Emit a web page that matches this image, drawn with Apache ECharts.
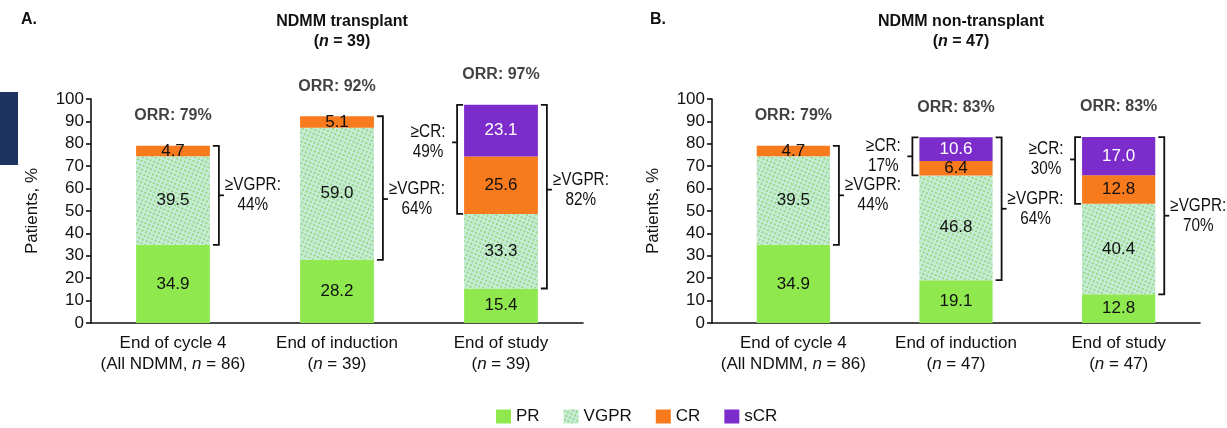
<!DOCTYPE html>
<html>
<head>
<meta charset="utf-8">
<style>
  html, body { margin: 0; padding: 0; background: #fff; }
  #main { width: 1227px; height: 428px; }
</style>
<script src="https://cdn.jsdelivr.net/npm/echarts@6/dist/echarts.min.js"></script>
</head>
<body>
<div id="main"></div>
<script>
// panel A - NDMM transplant
var catsA = ['End of cycle 4\n(All NDMM, {i|n} = 86)', 'End of induction\n({i|n} = 39)', 'End of study\n({i|n} = 39)'];
var prA = [34.9, 28.2, 15.4];
var vgprA = [39.5, 59.0, 33.3];
var crA = [4.7, 5.1, 25.6];
var scrA = [0, 0, 23.1];
var orrA = [79, 92, 97];
// [category, group, percent]
var bracketsA = [[0, 'vgpr', 44], [1, 'vgpr', 64], [2, 'cr', 49], [2, 'vgpr', 82]];

// panel B - NDMM non-transplant
var catsB = ['End of cycle 4\n(All NDMM, {i|n} = 86)', 'End of induction\n({i|n} = 47)', 'End of study\n({i|n} = 47)'];
var prB = [34.9, 19.1, 12.8];
var vgprB = [39.5, 46.8, 40.4];
var crB = [4.7, 6.4, 12.8];
var scrB = [0, 10.6, 17.0];
var orrB = [79, 83, 83];
var bracketsB = [[0, 'vgpr', 44], [1, 'cr', 17], [1, 'vgpr', 64], [2, 'cr', 30], [2, 'vgpr', 70]];

var yTicks = { min: 0, max: 100, interval: 10 };

var FONT = '"Liberation Sans", Arial, sans-serif';
var INK = '#111';
var colPR = '#8fe94e', colVGPR = '#c4ecd6', colCR = '#f77a1c', colSCR = '#7b2ccb';

// small vertical nudges of the bracket ticks (px), like the original layout
var shiftA = [0, 11, -17, -7];
var shiftB = [0, 0, 0, -11, 0];

function valLabel(white) {
  return {
    show: true, position: 'inside', fontSize: 17, fontFamily: FONT,
    color: white ? '#fff' : INK,
    formatter: function (p) { return p.value ? p.value.toFixed(1) : ''; }
  };
}

function barSeries(idx, stack, pr, vgpr, cr, scr) {
  var base = { type: 'bar', stack: stack, xAxisIndex: idx, yAxisIndex: idx, barWidth: '45%', silent: true };
  return [
    Object.assign({ name: 'PR', data: pr, itemStyle: { color: colPR }, label: valLabel(false) }, base),
    Object.assign({ name: 'VGPR', data: vgpr, label: valLabel(false),
      itemStyle: { color: colVGPR, decal: { symbol: 'circle', symbolSize: 0.9, dashArrayX: 2, dashArrayY: 2, color: 'rgba(130,200,80,0.9)', rotation: 0.4 } } }, base),
    Object.assign({ name: 'CR', data: cr, itemStyle: { color: colCR }, label: valLabel(false) }, base),
    Object.assign({ name: 'sCR', data: scr, itemStyle: { color: colSCR }, label: valLabel(true) }, base)
  ];
}

function totals(pr, vgpr, cr, scr) {
  return pr.map(function (v, i) { return +(v + vgpr[i] + cr[i] + scr[i]).toFixed(1); });
}

function orrSeries(idx, tot, orr) {
  return {
    type: 'scatter', xAxisIndex: idx, yAxisIndex: idx, silent: true, symbolSize: 0,
    itemStyle: { color: 'transparent' },
    data: tot.map(function (v, i) { return [i, v]; }),
    label: {
      show: true, position: 'top', distance: 22, fontSize: 16, fontWeight: 'bold', fontFamily: FONT, color: INK,
      formatter: function (p) { return 'ORR: ' + orr[p.dataIndex] + '%'; }
    }
  };
}

function bracketSeries(idx, brackets, pr, vgpr, tot, shifts) {
  var data = brackets.map(function (b) {
    var i = b[0];
    var from = b[1] === 'cr' ? pr[i] + vgpr[i] : pr[i];
    return [i, from, tot[i], b[1] === 'cr' ? -1 : 1, b[2]];
  });
  return {
    type: 'custom', xAxisIndex: idx, yAxisIndex: idx, silent: true, clip: false, z: 5,
    data: data, encode: { x: 0, y: [1, 2] },
    renderItem: function (params, api) {
      var cat = api.value(0), side = api.value(3), pct = api.value(4);
      var lo = api.coord([cat, api.value(1)]);
      var hi = api.coord([cat, api.value(2)]);
      var half = api.size([1, 0])[0] * 0.45 / 2;
      var x = lo[0] + side * (half + (side > 0 ? 9 : 7));
      var ym = (lo[1] + hi[1]) / 2 + shifts[params.dataIndex];
      var tx = x + side * (side > 0 ? 34 : 29);
      var ls = { stroke: INK, lineWidth: 1.8, fill: null };
      return {
        type: 'group',
        children: [
          { type: 'polyline', shape: { points: [[x - side * 6, hi[1]], [x, hi[1]], [x, lo[1]], [x - side * 6, lo[1]]] }, style: ls },
          { type: 'line', shape: { x1: x, y1: ym, x2: x + side * 5, y2: ym }, style: ls },
          // condensed look of the original lettering
          { type: 'text', x: tx, y: ym, scaleX: 0.85, style: {
              text: (side > 0 ? '≥VGPR:' : '≥CR:') + '\n' + pct + '%',
              x: 0, y: 0, align: 'center', verticalAlign: 'middle',
              font: '18px ' + FONT, lineHeight: 20, fill: INK } }
        ]
      };
    }
  };
}

function xAxis(idx, cats) {
  return {
    type: 'category', gridIndex: idx, data: cats,
    axisLine: { lineStyle: { color: INK, width: 1.6 } },
    axisTick: { length: 6, lineStyle: { color: INK, width: 1.6 } },
    axisLabel: { interval: 0, hideOverlap: false, color: INK, fontSize: 17, fontFamily: FONT, lineHeight: 21, margin: 10,
      rich: { i: { fontStyle: 'italic', fontSize: 17, fontFamily: FONT, color: INK, lineHeight: 21 } } }
  };
}

function yAxis(idx) {
  return {
    type: 'value', gridIndex: idx, min: yTicks.min, max: yTicks.max, interval: yTicks.interval,
    name: 'Patients, %', nameLocation: 'middle', nameGap: 50,
    nameTextStyle: { color: INK, fontSize: 17, fontFamily: FONT },
    axisLine: { show: true, lineStyle: { color: INK, width: 1.6 } },
    axisTick: { show: true, length: 5, lineStyle: { color: INK, width: 1.6 } },
    axisLabel: { color: INK, fontSize: 17, fontFamily: FONT, margin: 7 },
    splitLine: { show: false }
  };
}

var totA = totals(prA, vgprA, crA, scrA);
var totB = totals(prB, vgprB, crB, scrB);

var titleRich = { i: { fontStyle: 'italic', fontWeight: 'bold', fontSize: 16, fontFamily: FONT, color: INK, lineHeight: 20 } };

var chart = echarts.init(document.getElementById('main'));
chart.setOption({
  animation: false,
  backgroundColor: '#fff',
  textStyle: { fontFamily: FONT },
  title: [
    { text: 'A.', left: 16, top: 7, textStyle: { fontSize: 16, fontWeight: 'bold', color: INK, fontFamily: FONT } },
    { text: 'NDMM transplant\n({i|n} = 39)', left: 337, top: 7, textAlign: 'center',
      textStyle: { fontSize: 16, fontWeight: 'bold', color: INK, fontFamily: FONT, lineHeight: 20, rich: titleRich } },
    { text: 'B.', left: 645, top: 7, textStyle: { fontSize: 16, fontWeight: 'bold', color: INK, fontFamily: FONT } },
    { text: 'NDMM non-transplant\n({i|n} = 47)', left: 956, top: 7, textAlign: 'center',
      textStyle: { fontSize: 16, fontWeight: 'bold', color: INK, fontFamily: FONT, lineHeight: 20, rich: titleRich } }
  ],
  legend: {
    data: ['PR', 'VGPR', 'CR', 'sCR'], left: 496, top: 408, padding: 0,
    icon: 'rect', itemWidth: 15, itemHeight: 14, itemGap: 24,
    textStyle: { fontSize: 17, color: INK, fontFamily: FONT }
  },
  graphic: [
    { type: 'rect', shape: { x: 0, y: 92, width: 18, height: 73 }, style: { fill: '#1c345f' } }
  ],
  grid: [
    { left: 91, right: 644, top: 99, bottom: 105 },
    { left: 712, right: 27, top: 99, bottom: 105 }
  ],
  xAxis: [xAxis(0, catsA), xAxis(1, catsB)],
  yAxis: [yAxis(0), yAxis(1)],
  series: []
    .concat(barSeries(0, 'a', prA, vgprA, crA, scrA))
    .concat(barSeries(1, 'b', prB, vgprB, crB, scrB))
    .concat([
      orrSeries(0, totA, orrA),
      orrSeries(1, totB, orrB),
      bracketSeries(0, bracketsA, prA, vgprA, totA, shiftA),
      bracketSeries(1, bracketsB, prB, vgprB, totB, shiftB)
    ])
});
</script>
</body>
</html>
